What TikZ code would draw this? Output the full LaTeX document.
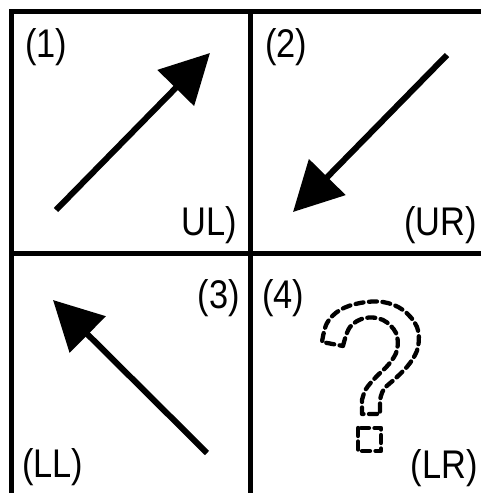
\documentclass[tikz,border=0pt]{standalone}
\usepackage{fontspec}
\setmainfont{Liberation Sans}[FakeStretch=0.86]
\usetikzlibrary{arrows.meta}
\tikzset{
  gridline/.style={line width=5pt, line cap=rect},
  bigarrow/.style={line width=6pt, -{Triangle[length=49pt,width=50pt]}},
  lbl/.style={inner sep=0pt, font=\fontsize{40}{41}\selectfont},
  qdash/.style={line width=4.3pt, dash pattern=on 8pt off 5.5pt, line cap=round, line join=round},
}
\begin{document}
\begin{tikzpicture}[x=1pt,y=-1pt]
\useasboundingbox (0,0) rectangle (480,493);
% grid
\coordinate (tl) at (11.5,11);
\coordinate (tr) at (482,11);
\coordinate (bl) at (11.5,495);
\coordinate (mt) at (250,11);
\coordinate (mb) at (250,495);
\coordinate (ml) at (11.5,253);
\coordinate (mr) at (482,253);
\draw[gridline] (bl) -- (tl) -- (tr);
\draw[gridline] (mt) -- (mb);
\draw[gridline] (ml) -- (mr);
% labels
\node[lbl, anchor=base west] (l1) at (25,57) {(1)};
\node[lbl, anchor=base west] (l2) at (265,57) {(2)};
\node[lbl, anchor=base east] (lul) at (237,235) {UL)};
\node[lbl, anchor=base east] (lur) at (477,235) {(UR)};
\node[lbl, anchor=base east] (l3) at (240,308) {(3)};
\node[lbl, anchor=base west] (l4) at (262,308) {(4)};
\node[lbl, anchor=base west] (lll) at (22,477) {(LL)};
\node[lbl, anchor=base east] (llr) at (478,478) {(LR)};
% arrows
\coordinate (a1s) at (56,210);
\coordinate (a1e) at (210,53);
\coordinate (a2s) at (447,55);
\coordinate (a2e) at (293,212);
\coordinate (a3s) at (207,453);
\coordinate (a3e) at (53,300);
\draw[bigarrow] (a1s) -- (a1e);
\draw[bigarrow] (a2s) -- (a2e);
\draw[bigarrow] (a3s) -- (a3e);
% question mark
\draw[qdash] (343,346)
  -- plot[smooth, tension=0.6] coordinates {(343,346) (350,327) (365,318) (383,320) (396,333) (397,350) (389,364) (376,377) (366,389) (362,400)}
  -- (362,414) -- (380,414) -- (380,400)
  -- plot[smooth, tension=0.6] coordinates {(380,400) (384,389) (397,377) (410,363) (418,347) (417,327) (403,310) (383,302) (360,303) (340,310) (327,323) (322,342)}
  -- cycle;
\draw[qdash] (358,428) rectangle (381,451);
\end{tikzpicture}
\end{document}
